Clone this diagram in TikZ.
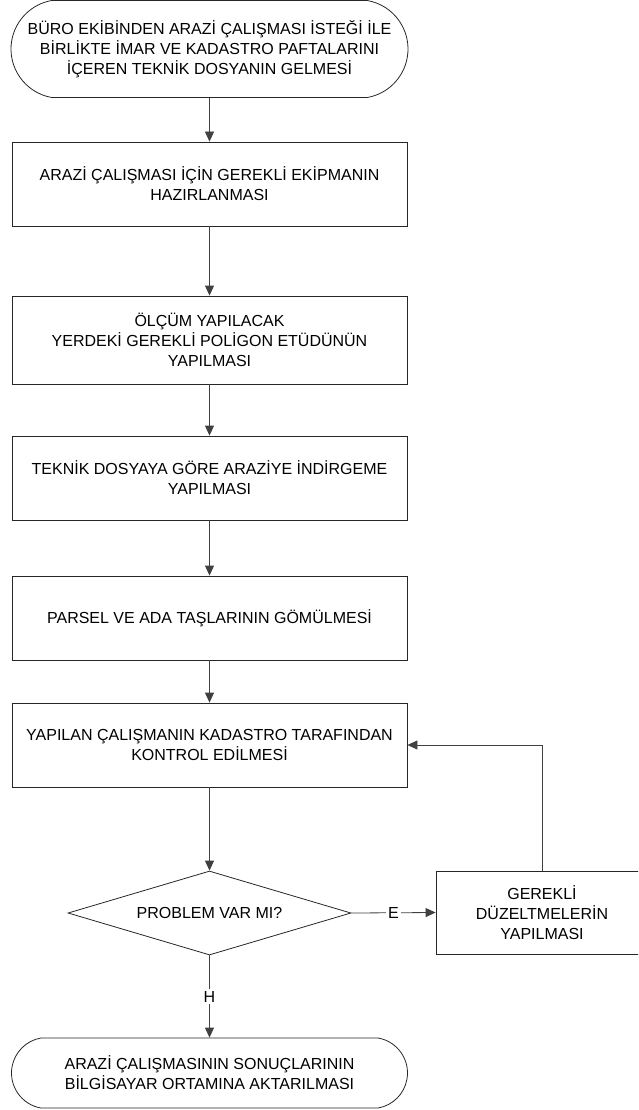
\documentclass[tikz,border=0pt]{standalone}
\usepackage{fontspec}
\setmainfont{Liberation Sans}
\usetikzlibrary{shapes.misc,shapes.geometric,arrows.meta}
\tikzset{
  base/.style={draw=black!85, line width=0.8pt, inner sep=0pt, align=center,
    font=\fontsize{16}{20}\selectfont},
  stepbox/.style={base, rectangle, minimum width=395, minimum height=84},
  termbox/.style={base, rounded rectangle, rounded rectangle arc length=160},
  decision/.style={base, diamond, aspect=3.37, minimum width=283, minimum height=84},
  conn/.style={draw=black!75, line width=0.8pt, -{Triangle[length=10pt,width=9pt]}},
  lbl/.style={fill=white, inner sep=2pt, font=\fontsize{16}{20}\selectfont}
}
\begin{document}
\begin{tikzpicture}[x=1pt,y=-1pt]
\clip (0,0) rectangle (638,1110);
\useasboundingbox (0,0) rectangle (638,1110);

\node[termbox, minimum width=397, minimum height=97] (t1) at (209.5,49)
  {BÜRO EKİBİNDEN ARAZİ ÇALIŞMASI İSTEĞİ İLE\\BİRLİKTE İMAR VE KADASTRO PAFTALARINI\\İÇEREN TEKNİK DOSYANIN GELMESİ};
\node[stepbox] (b1) at (209.5,184)
  {ARAZİ ÇALIŞMASI İÇİN GEREKLİ EKİPMANIN\\HAZIRLANMASI};
\node[stepbox, minimum height=88] (b2) at (209.5,340)
  {ÖLÇÜM YAPILACAK\\YERDEKİ GEREKLİ POLİGON ETÜDÜNÜN\\YAPILMASI};
\node[stepbox] (b3) at (209.5,478)
  {TEKNİK DOSYAYA GÖRE ARAZİYE İNDİRGEME\\YAPILMASI};
\node[stepbox] (b4) at (209.5,618)
  {PARSEL VE ADA TAŞLARININ GÖMÜLMESİ};
\node[stepbox] (b5) at (209.5,745)
  {YAPILAN ÇALIŞMANIN KADASTRO TARAFINDAN\\KONTROL EDİLMESİ};
\node[decision] (d) at (209.5,913) {PROBLEM VAR MI?};
\node[base, rectangle, minimum width=212, minimum height=83] (b6) at (542,912.5)
  {GEREKLİ\\DÜZELTMELERİN\\YAPILMASI};
\node[termbox, minimum width=396, minimum height=70] (t2) at (209.5,1073)
  {ARAZİ ÇALIŞMASININ SONUÇLARININ\\BİLGİSAYAR ORTAMINA AKTARILMASI};

\draw[conn] (t1.south) -- (b1.north);
\draw[conn] (b1.south) -- (b2.north);
\draw[conn] (b2.south) -- (b3.north);
\draw[conn] (b3.south) -- (b4.north);
\draw[conn] (b4.south) -- (b5.north);
\draw[conn] (b5.south) -- (d.north);
\draw[conn] (d.east) -- node[lbl] (le) {E} (b6.west);
\draw[conn] (d.south) -- node[lbl] (lh) {H} (t2.north);
\draw[conn] (b6.north) |- (b5.east);
\end{tikzpicture}
\end{document}
